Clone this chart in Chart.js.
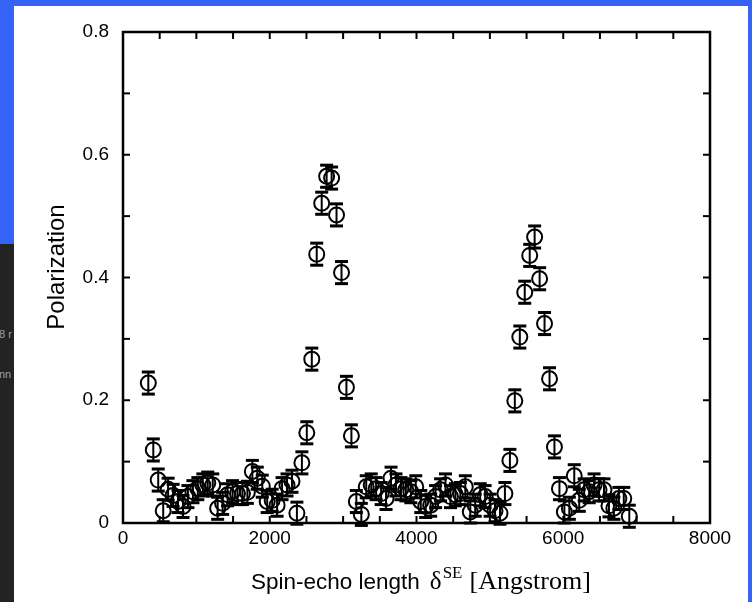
<!DOCTYPE html>
<html><head><meta charset="utf-8">
<script src="https://cdn.jsdelivr.net/npm/chart.js@4.4.1/dist/chart.umd.min.js"></script>
<style>
html,body{margin:0;padding:0;}
body{width:752px;height:602px;background:#3563f6;position:relative;overflow:hidden;}
#dark{position:absolute;left:0;top:244px;width:14px;height:358px;background:#232323;overflow:hidden;}
#dark span{position:absolute;left:-1px;color:#a0a0a0;font:11px 'Liberation Sans',sans-serif;white-space:nowrap;}
#panel{position:absolute;left:14px;top:6px;width:734px;height:596px;background:#fff;}
canvas{display:block;}
</style></head><body>
<div id="dark"><span style="top:84px">8 r</span><span style="top:124px">nn</span></div>
<div id="panel"><canvas id="c" width="734" height="596"></canvas></div>
<script>
const spinEchoLength = [345, 413, 480, 548, 615, 683, 750, 818, 885, 953, 1020, 1088, 1155, 1223, 1290, 1358, 1425, 1493, 1560, 1628, 1695, 1763, 1830, 1898, 1965, 2033, 2100, 2168, 2235, 2303, 2370, 2438, 2505, 2573, 2640, 2708, 2775, 2843, 2910, 2978, 3045, 3113, 3180, 3248, 3315, 3383, 3450, 3518, 3585, 3653, 3720, 3788, 3855, 3923, 3990, 4058, 4125, 4193, 4260, 4328, 4395, 4463, 4530, 4598, 4665, 4733, 4800, 4868, 4935, 5003, 5070, 5138, 5205, 5273, 5340, 5408, 5475, 5543, 5610, 5678, 5745, 5813, 5880, 5948, 6015, 6083, 6150, 6218, 6285, 6353, 6420, 6488, 6555, 6623, 6690, 6758, 6825, 6900];
const polarization = [0.228, 0.119, 0.070, 0.020, 0.055, 0.045, 0.035, 0.027, 0.043, 0.051, 0.056, 0.062, 0.065, 0.062, 0.024, 0.032, 0.046, 0.051, 0.048, 0.048, 0.050, 0.084, 0.073, 0.060, 0.035, 0.037, 0.029, 0.056, 0.062, 0.068, 0.016, 0.098, 0.147, 0.267, 0.438, 0.521, 0.565, 0.562, 0.502, 0.408, 0.221, 0.142, 0.035, 0.014, 0.059, 0.062, 0.056, 0.048, 0.040, 0.073, 0.062, 0.056, 0.054, 0.051, 0.059, 0.035, 0.027, 0.029, 0.043, 0.054, 0.062, 0.043, 0.046, 0.048, 0.059, 0.018, 0.029, 0.046, 0.043, 0.029, 0.020, 0.016, 0.048, 0.102, 0.199, 0.303, 0.376, 0.436, 0.466, 0.398, 0.325, 0.235, 0.124, 0.056, 0.018, 0.024, 0.077, 0.037, 0.054, 0.051, 0.062, 0.054, 0.054, 0.028, 0.024, 0.040, 0.040, 0.011];
const polarizationError = 0.018;
const xTickLabels = [0, 2000, 4000, 6000, 8000];
const yTickLabels = [0, 0.2, 0.4, 0.6, 0.8];
const yTitle = 'Polarization';
const xTitleParts = ['Spin-echo length', '\u03b4', 'SE', '[Angstrom]'];

const points = spinEchoLength.map((x, i) => ({x: x, y: polarization[i]}));

function seg(ctx, x1, y1, x2, y2) { ctx.beginPath(); ctx.moveTo(x1, y1); ctx.lineTo(x2, y2); ctx.stroke(); }

const SANS = '"Liberation Sans", Arial, sans-serif';
const SERIF = '"Liberation Serif", "Times New Roman", serif';

const framePlugin = {
  id: 'frame',
  beforeDatasetsDraw(chart) {
    const ctx = chart.ctx, xs = chart.scales.x, ys = chart.scales.y;
    ctx.save();
    ctx.strokeStyle = '#000';
    points.forEach(p => {
      const px = xs.getPixelForValue(p.x);
      const top = ys.getPixelForValue(p.y + polarizationError);
      const bot = ys.getPixelForValue(p.y - polarizationError);
      ctx.lineWidth = 2; seg(ctx, px, top, px, bot);
      ctx.lineWidth = 3; seg(ctx, px - 6.5, top, px + 6.5, top); seg(ctx, px - 6.5, bot, px + 6.5, bot);
    });
    ctx.restore();
  },
  afterDraw(chart) {
    const ctx = chart.ctx, xs = chart.scales.x, ys = chart.scales.y, a = chart.chartArea;
    ctx.save();
    ctx.strokeStyle = '#000';
    ctx.lineWidth = 2;
    xs.ticks.forEach(t => {
      const px = xs.getPixelForValue(t.value);
      seg(ctx, px, a.bottom, px, a.bottom - 7);
      seg(ctx, px, a.top, px, a.top + 7);
    });
    ys.ticks.forEach(t => {
      const py = ys.getPixelForValue(t.value);
      seg(ctx, a.left, py, a.left + 7, py);
      seg(ctx, a.right, py, a.right - 7, py);
    });
    ctx.lineWidth = 2.5;
    ctx.strokeRect(a.left, a.top, a.right - a.left, a.bottom - a.top);

    ctx.fillStyle = '#000';
    // y-axis title
    ctx.save();
    ctx.translate(43, 261);
    ctx.rotate(-Math.PI / 2);
    ctx.textAlign = 'center';
    ctx.textBaseline = 'middle';
    ctx.font = '24px ' + SANS;
    ctx.fillText(yTitle, 0, 0);
    ctx.restore();

    // x-axis title with mixed fonts
    ctx.textBaseline = 'alphabetic';
    ctx.textAlign = 'left';
    let x = 237; const base = 583;
    ctx.font = '22.5px ' + SANS;
    ctx.fillText(xTitleParts[0], x, base); x += ctx.measureText(xTitleParts[0]).width + 10;
    ctx.font = '25px ' + SERIF;
    ctx.fillText(xTitleParts[1], x, base); x += ctx.measureText(xTitleParts[1]).width + 1;
    ctx.font = '17px ' + SERIF;
    ctx.fillText(xTitleParts[2], x, base - 11); x += ctx.measureText(xTitleParts[2]).width + 7;
    ctx.font = '26px ' + SERIF;
    ctx.fillText(xTitleParts[3], x, base);
    ctx.restore();
  }
};

new Chart(document.getElementById('c'), {
  type: 'scatter',
  data: { datasets: [{
    data: points,
    pointStyle: 'circle', pointRadius: 7.5, pointBorderWidth: 2,
    pointBorderColor: '#000', pointBackgroundColor: 'rgba(0,0,0,0)',
    showLine: false, clip: false
  }]},
  options: {
    responsive: false, animation: false, devicePixelRatio: 1,
    layout: { padding: { top: 26, right: 38, left: 0, bottom: 0 } },
    plugins: { legend: { display: false }, tooltip: { enabled: false } },
    scales: {
      x: {
        type: 'linear', min: 0, max: 8000,
        afterFit: s => { s.height = 79; },
        grid: { display: false, drawTicks: false }, border: { display: false },
        ticks: {
          stepSize: 500, autoSkip: false, maxRotation: 0, padding: 4, color: '#000',
          font: { family: SANS, size: 19 },
          callback: v => xTickLabels.includes(v) ? String(v) : ''
        }
      },
      y: {
        type: 'linear', min: 0, max: 0.8,
        afterFit: s => { s.width = 109; },
        grid: { display: false, drawTicks: false }, border: { display: false },
        ticks: {
          stepSize: 0.1, autoSkip: false, padding: 14, color: '#000',
          font: { family: SANS, size: 19 },
          callback: v => {
            const m = yTickLabels.find(t => Math.abs(t - v) < 1e-6);
            return m === undefined ? '' : (m === 0 ? '0' : m.toFixed(1));
          }
        }
      }
    }
  },
  plugins: [framePlugin]
});
</script>
</body></html>
